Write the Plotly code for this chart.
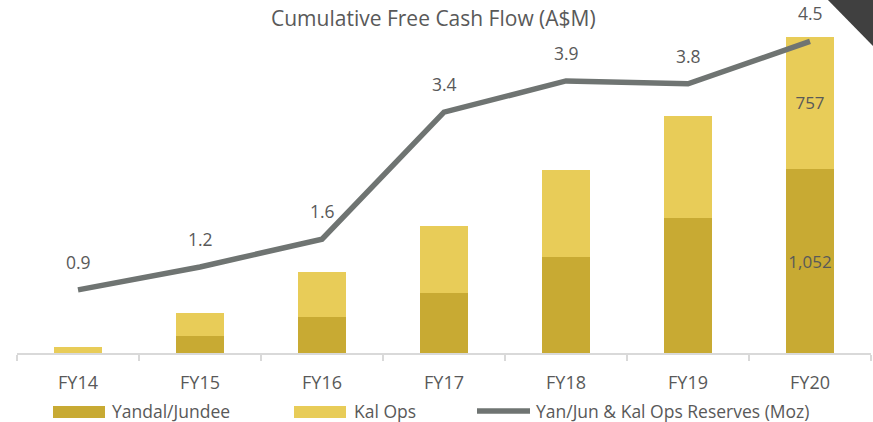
import plotly.graph_objects as go

# ---- data ----
categories = ["FY14", "FY15", "FY16", "FY17", "FY18", "FY19", "FY20"]
yandal_jundee = [0, 99, 206, 345, 551, 772, 1052]
kal_ops = [33, 131, 257, 380, 494, 584, 757]
reserves_moz = [0.91, 1.24, 1.64, 3.47, 3.92, 3.88, 4.49]
reserves_labels = ["0.9", "1.2", "1.6", "3.4", "3.9", "3.8", "4.5"]

title_text = "Cumulative Free Cash Flow (A$M)"
legend_names = ["Yandal/Jundee", "Kal Ops", "Yan/Jun & Kal Ops Reserves (Moz)"]

# ---- style ----
W, H = 873, 422
L, R, T, B = 17, 2, 20, 69
PW, PH = W - L - R, H - T - B
DARK = "#C8AA33"
LIGHT = "#E8CC58"
LINE = "#6F7472"
TXT = "#595959"
FONT = "Open Sans"


def px(x):
    return (x - L) / PW


def py(y):
    return (H - B - y) / PH


last = len(categories) - 1
yj_text = [f"{v:,}" if i == last else "" for i, v in enumerate(yandal_jundee)]
ko_text = [f"{v:,}" if i == last else "" for i, v in enumerate(kal_ops)]

fig = go.Figure()
fig.add_trace(go.Bar(
    x=categories, y=yandal_jundee, name=legend_names[0],
    marker=dict(color=DARK, line=dict(width=0)),
    text=yj_text, textposition="inside", insidetextanchor="middle",
    textangle=0, constraintext="none",
    textfont=dict(family=FONT, size=17, color=TXT),
))
fig.add_trace(go.Bar(
    x=categories, y=kal_ops, name=legend_names[1],
    marker=dict(color=LIGHT, line=dict(width=0)),
    text=ko_text, textposition="inside", insidetextanchor="middle",
    textangle=0, constraintext="none",
    textfont=dict(family=FONT, size=17, color=TXT),
))
fig.add_trace(go.Scatter(
    x=categories, y=reserves_moz, name=legend_names[2], yaxis="y2",
    mode="lines", line=dict(color=LINE, width=5.5), cliponaxis=False,
))

annotations = []
for c, v, t in zip(categories, reserves_moz, reserves_labels):
    annotations.append(dict(
        x=c, y=v, xref="x", yref="y2", text=t, showarrow=False,
        yshift=28, font=dict(family=FONT, size=17.5, color=TXT),
    ))

annotations.append(dict(
    x=px(433), y=py(18), xref="paper", yref="paper", text=title_text,
    showarrow=False, xanchor="center", yanchor="middle",
    font=dict(family=FONT, size=21, color=TXT),
))

# custom legend
shapes = [
    dict(type="rect", xref="paper", yref="paper", x0=px(53), x1=px(105),
         y0=py(418), y1=py(406), fillcolor=DARK, line=dict(width=0)),
    dict(type="rect", xref="paper", yref="paper", x0=px(294), x1=px(346),
         y0=py(418), y1=py(406), fillcolor=LIGHT, line=dict(width=0)),
    dict(type="line", xref="paper", yref="paper", x0=px(477), x1=px(530),
         y0=py(411), y1=py(411), line=dict(color=LINE, width=5.5)),
    # decorative corner triangle
    dict(type="path", xref="paper", yref="paper",
         path=f"M {px(826)} {py(-2)} L {px(876)} {py(-2)} L {px(876)} {py(49)} Z",
         fillcolor="#404040", line=dict(width=0), layer="above"),
]
for xpos, name in zip([110, 352, 534], legend_names):
    annotations.append(dict(
        x=px(xpos), y=py(410.5), xref="paper", yref="paper", text=name,
        showarrow=False, xanchor="left", yanchor="middle",
        font=dict(family=FONT, size=17.5, color=TXT),
    ))

fig.update_layout(
    width=W, height=H,
    margin=dict(l=L, r=R, t=T, b=B, pad=0),
    barmode="stack", bargap=0.6,
    plot_bgcolor="white", paper_bgcolor="white",
    showlegend=False,
    font=dict(family=FONT, size=16, color=TXT),
    xaxis=dict(
        type="category", range=[-0.5, 6.5],
        showline=True, linecolor="#D9D9D9", linewidth=1.5,
        ticks="outside", tickson="boundaries", ticklen=6, tickcolor="#D9D9D9",
        tickwidth=1.5, showgrid=False, zeroline=False,
        tickfont=dict(family=FONT, size=18, color=TXT),
        ticklabelstandoff=13,
    ),
    yaxis=dict(range=[0, 1905], visible=False, showgrid=False, zeroline=False),
    yaxis2=dict(range=[0, PH / 69.4], overlaying="y", side="right",
                visible=False, showgrid=False, zeroline=False),
    annotations=annotations,
    shapes=shapes,
)

fig.write_html("out.html", config={"displayModeBar": False},
               post_script="document.body.style.margin='0px';")
